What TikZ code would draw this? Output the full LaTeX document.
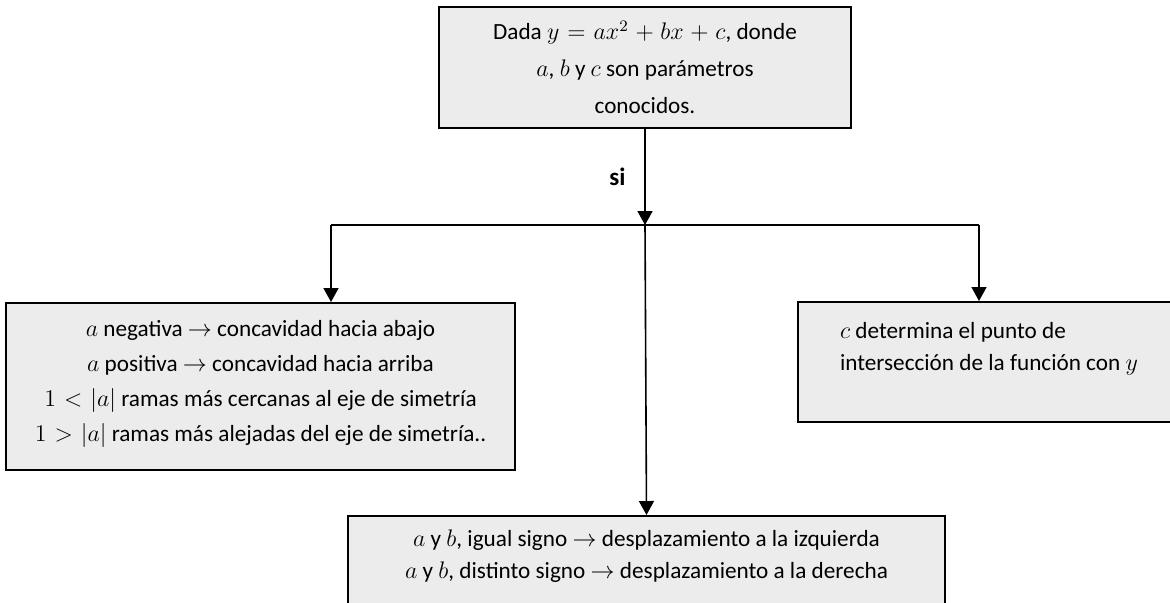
\documentclass[tikz,border=0pt]{standalone}
\usepackage{fontspec}
\setmainfont{Carlito}
\usepackage{amsmath}
\usetikzlibrary{arrows.meta,positioning}

\thickmuskip=6mu plus 2mu
\medmuskip=5mu plus 2mu

\tikzset{
    caja/.style={draw=black, line width=1pt, fill=gray!15, align=center,
        font=\fontsize{11.6}{16}\selectfont, inner sep=0pt},
    flecha/.style={line width=0.8pt, -{Triangle[length=7pt,width=7.5pt]}},
    linea/.style={line width=0.8pt}
}

\begin{document}
\begin{tikzpicture}[x=0.5pt, y=-0.5pt]
        \path[use as bounding box, clip] (0,0) rectangle (1170,602);
        % cajas
        \node[caja, minimum width=206pt, minimum height=60.5pt] (dada) at (645,67.5)
            {Dada $y=ax^2+bx+c$, donde\\[2.5pt] $a$, $b$ y $c$ son parámetros\\[2.5pt] conocidos.};
        \node[caja, minimum width=254.5pt, minimum height=83.5pt, text depth=6pt] (concav) at (260.5,386.5)
            {$a$ negativa $\rightarrow$ concavidad hacia abajo\\[1.5pt]
             $a$ positiva $\rightarrow$ concavidad hacia arriba\\[1.5pt]
             $1<|a|$ ramas más cercanas al eje de simetría\\[1.5pt]
             $1>|a|$ ramas más alejadas del eje de simetría..};
        \node[caja, align=left, minimum width=191pt, minimum height=60pt, text depth=16pt] (corte) at (989,362)
            {$c$ determina el punto de\\ intersección de la función con $y$};
        \node[caja, anchor=north, minimum width=298.5pt, minimum height=60pt, text depth=22pt] (despl) at (646.5,515)
            {$a$ y $b$, igual signo $\rightarrow$ desplazamiento a la izquierda\\
             $a$ y $b$, distinto signo $\rightarrow$ desplazamiento a la derecha};
        % conectores
        \coordinate (cruce) at (645,225);
        \coordinate (ramaizq) at (331,225);
        \coordinate (ramader) at (979,225);
        \draw[flecha] (dada.south) -- (cruce) node[pos=0.5, left=6pt, font=\fontsize{12.5}{15}\selectfont\bfseries]{si};
        \draw[linea] (ramaizq) -- (ramader);
        \draw[flecha] (ramaizq) -- (ramaizq |- concav.north);
        \draw[flecha] (ramader) -- (ramader |- corte.north);
        \draw[flecha] (cruce) -- (despl.north);
\end{tikzpicture}
\end{document}
